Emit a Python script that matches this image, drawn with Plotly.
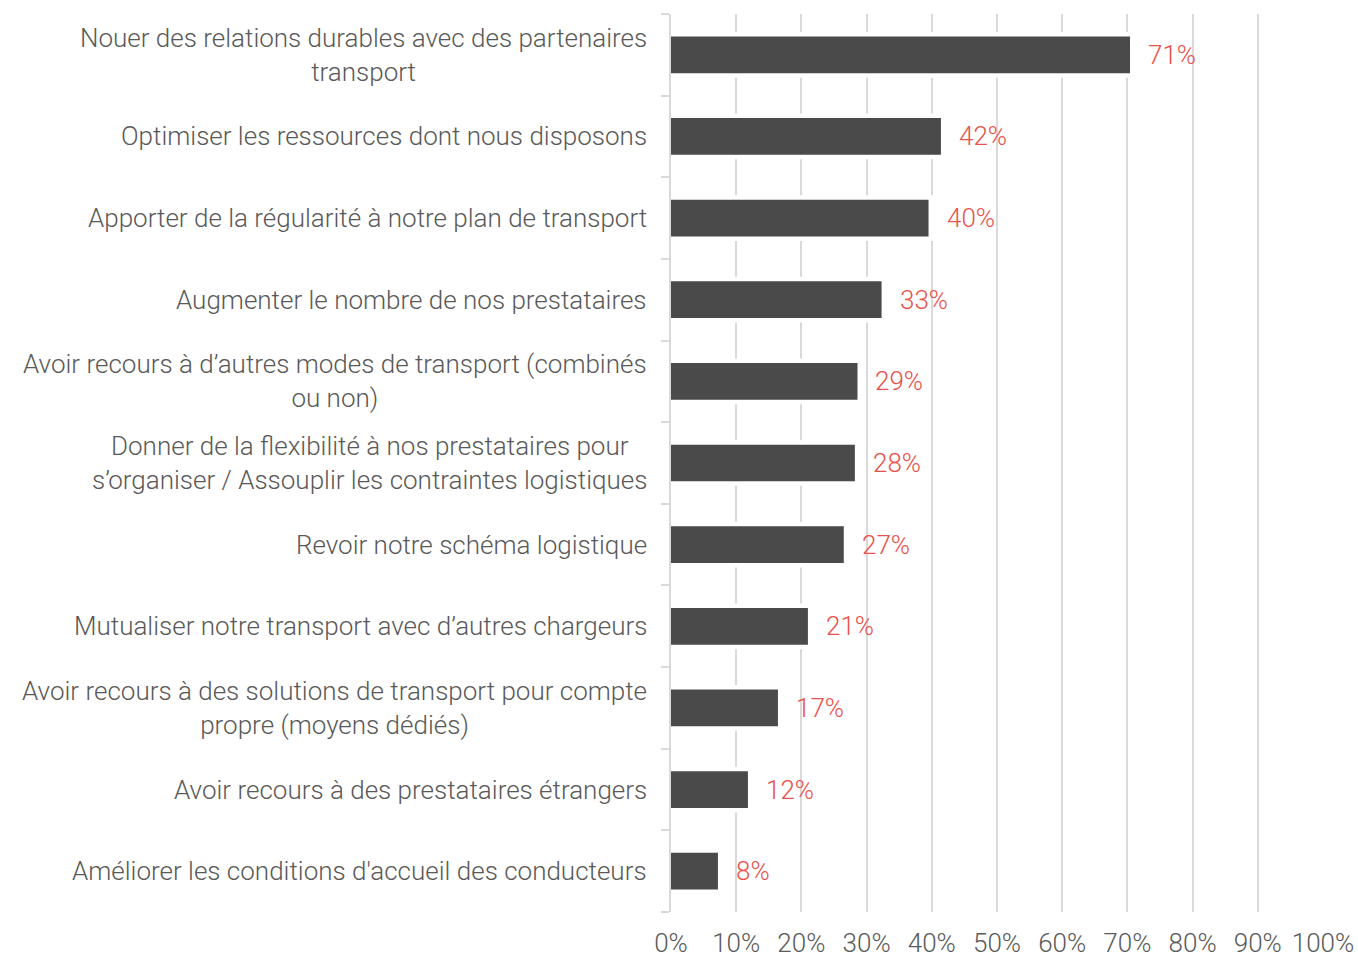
import plotly.graph_objects as go

categories = [
    "Nouer des relations durables avec des partenaires<br>transport",
    "Optimiser les ressources dont nous disposons",
    "Apporter de la régularité à notre plan de transport",
    "Augmenter le nombre de nos prestataires",
    "Avoir recours à d’autres modes de transport (combinés<br>ou non)",
    "Donner de la flexibilité à nos prestataires pour<br>s’organiser / Assouplir les contraintes logistiques",
    "Revoir notre schéma logistique",
    "Mutualiser notre transport avec d’autres chargeurs",
    "Avoir recours à des solutions de transport pour compte<br>propre (moyens dédiés)",
    "Avoir recours à des prestataires étrangers",
    "Améliorer les conditions d'accueil des conducteurs",
]
values = [70.4, 41.4, 39.5, 32.3, 28.6, 28.2, 26.5, 21.0, 16.4, 11.8, 7.2]
value_labels = ["71%", "42%", "40%", "33%", "29%", "28%", "27%", "21%", "17%", "12%", "8%"]
x_ticks = [0, 10, 20, 30, 40, 50, 60, 70, 80, 90, 100]

FONT = "Roboto"
GRAY = "#595959"
RED = "#E9524B"
BAR = "#4A4A4A"
FS = 26

ids = list(range(len(categories)))

fig = go.Figure()
# white halo behind bars (hides gridlines around bars)
fig.add_trace(go.Bar(
    y=ids, x=values, orientation="h", width=0.45,
    marker=dict(color="white", line=dict(color="white", width=9)),
    hoverinfo="skip", showlegend=False,
))
fig.add_trace(go.Bar(
    y=ids, x=values, orientation="h", width=0.45,
    marker=dict(color=BAR, line=dict(width=0)),
    showlegend=False,
))

for i, (v, lab) in enumerate(zip(values, value_labels)):
    fig.add_annotation(
        x=v, y=i, xref="x", yref="y", text=lab, showarrow=False,
        xanchor="left", yanchor="middle", xshift=16,
        font=dict(family=FONT, size=FS, color=RED, weight=300),
    )

for i, c in enumerate(categories):
    fig.add_annotation(
        x=0, y=i, xref="paper", yref="y", text=c, showarrow=False,
        xanchor="right", yanchor="middle", align="center", xshift=-22,
        font=dict(family=FONT, size=FS, color=GRAY, weight=300),
    )

fig.update_layout(
    width=1358, height=958,
    margin=dict(l=671, r=35, t=14, b=46),
    paper_bgcolor="white", plot_bgcolor="white",
    barmode="overlay",
    font=dict(family=FONT, size=FS, color=GRAY, weight=300),
)
fig.update_xaxes(
    range=[0, 100], tickvals=x_ticks, ticktext=[f"{t}%" for t in x_ticks],
    showgrid=True, gridcolor="#D9D9D9", gridwidth=2,
    zeroline=False, showline=False, ticks="",
    ticklabelstandoff=13,
    tickfont=dict(family=FONT, size=FS, color=GRAY, weight=300),
    automargin=False,
    fixedrange=True,
)
fig.update_yaxes(
    range=[len(categories) - 0.5, -0.5],
    tickvals=[i - 0.5 for i in ids] + [len(ids) - 0.5], ticktext=[""] * (len(ids) + 1),
    showgrid=False, zeroline=False,
    showline=True, linecolor="#D9D9D9", linewidth=2,
    ticks="outside", ticklen=8, tickcolor="#D9D9D9", tickwidth=2,
    automargin=False,
    fixedrange=True,
)

fig.write_html(
    "out.html",
    config={"displayModeBar": False},
    post_script="document.body.style.margin='0';document.body.style.overflow='hidden';",
)
